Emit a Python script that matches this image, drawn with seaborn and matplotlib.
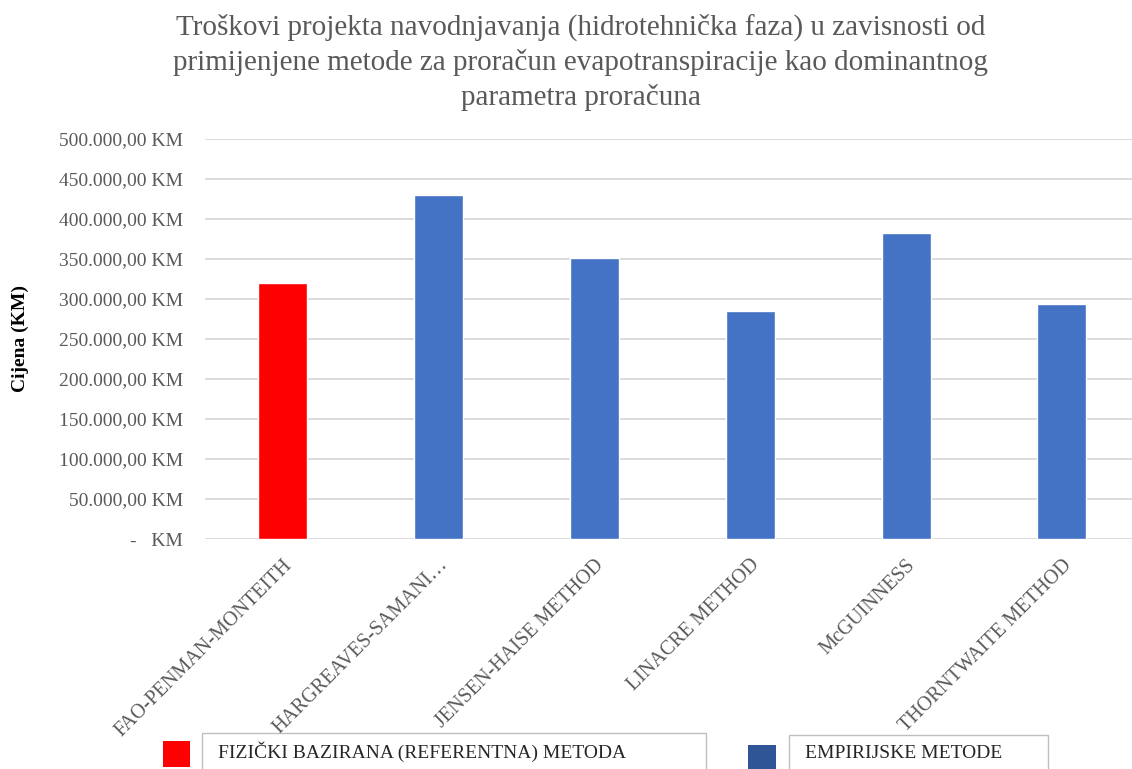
import pandas as pd
import numpy as np
import seaborn as sns
import matplotlib.pyplot as plt
from matplotlib.patches import Rectangle

# values (KM)
methods = ['FAO-PENMAN-MONTEITH', 'HARGREAVES-SAMANI…', 'JENSEN-HAISE METHOD',
           'LINACRE METHOD', 'McGUINNESS', 'THORNTWAITE METHOD']
costs = [320000, 430500, 351500, 285000, 382500, 293500]
groups = ['FIZIČKI BAZIRANA (REFERENTNA) METODA', 'EMPIRIJSKE METODE',
          'EMPIRIJSKE METODE', 'EMPIRIJSKE METODE', 'EMPIRIJSKE METODE', 'EMPIRIJSKE METODE']
yticks = [0, 50000, 100000, 150000, 200000, 250000, 300000, 350000, 400000, 450000, 500000]

title = ('Troškovi projekta navodnjavanja (hidrotehnička faza) u zavisnosti od\n'
         'primijenjene metode za proračun evapotranspiracije kao dominantnog\n'
         'parametra proračuna')

df = pd.DataFrame({'Metoda': methods, 'Cijena': costs, 'Grupa': groups})
palette = {'FIZIČKI BAZIRANA (REFERENTNA) METODA': '#FF0000', 'EMPIRIJSKE METODE': '#4472C4'}

sns.set_style('white')
plt.rcParams['font.family'] = ['Liberation Serif', 'DejaVu Serif']

fig = plt.figure(figsize=(11.32, 7.69), dpi=100)
ax = fig.add_axes([205/1132, 1 - 539/769, 1 - 205/1132, 400/769])

sns.barplot(data=df, x='Metoda', y='Cijena', hue='Grupa', palette=palette, saturation=1,
            dodge=False, width=0.315, legend=False, ax=ax, zorder=3)

ax.set_ylim(0, 500000)
ax.set_xlim(-0.5, 5.45)
ax.set_yticks(yticks)
ax.set_yticklabels(['-   KM' if v == 0 else f'{v:,.2f}'.replace(',', ' ').replace('.', ',').replace(' ', '.') + ' KM'
                    for v in yticks])
ax.yaxis.grid(True, color='#d9d9d9', linewidth=1.3, zorder=0)
for s in ax.spines.values():
    s.set_visible(False)
ax.tick_params(axis='y', length=0, pad=16, labelsize=14, labelcolor='#595959')
ax.tick_params(axis='x', length=0, pad=12, labelsize=14.5, labelcolor='#595959')
plt.setp(ax.get_xticklabels(), rotation=45, ha='right', rotation_mode='anchor')
ax.set_xlabel('')
ax.set_ylabel('Cijena (KM)', fontsize=14, fontweight='bold', color='black', labelpad=6)
ax.yaxis.set_label_coords(-0.19, 0.5)

fig.text(0.513, 0.982, title, ha='center', va='top', fontsize=21, color='#595959',
         linespacing=1.38)

# legend drawn as in the source: colour square + framed label
fig.add_artist(Rectangle((163/1132, 1 - 767/769), 27/1132, 26/769, transform=fig.transFigure,
                         facecolor='#FF0000', edgecolor='none'))
fig.add_artist(Rectangle((202/1132, 1 - 780/769), 504/1132, 47/769, transform=fig.transFigure,
                         facecolor='white', edgecolor='#bfbfbf', linewidth=1))
fig.text(218/1132, 1 - 752/769, 'FIZIČKI BAZIRANA (REFERENTNA) METODA', ha='left', va='center',
         fontsize=14, color='#262626')
fig.add_artist(Rectangle((748/1132, 1 - 771/769), 28/1132, 26/769, transform=fig.transFigure,
                         facecolor='#2F5597', edgecolor='none'))
fig.add_artist(Rectangle((789/1132, 1 - 780/769), 259/1132, 45/769, transform=fig.transFigure,
                         facecolor='white', edgecolor='#bfbfbf', linewidth=1))
fig.text(805/1132, 1 - 753/769, 'EMPIRIJSKE METODE', ha='left', va='center',
         fontsize=14, color='#262626')

fig.savefig('out.png', dpi=100)
